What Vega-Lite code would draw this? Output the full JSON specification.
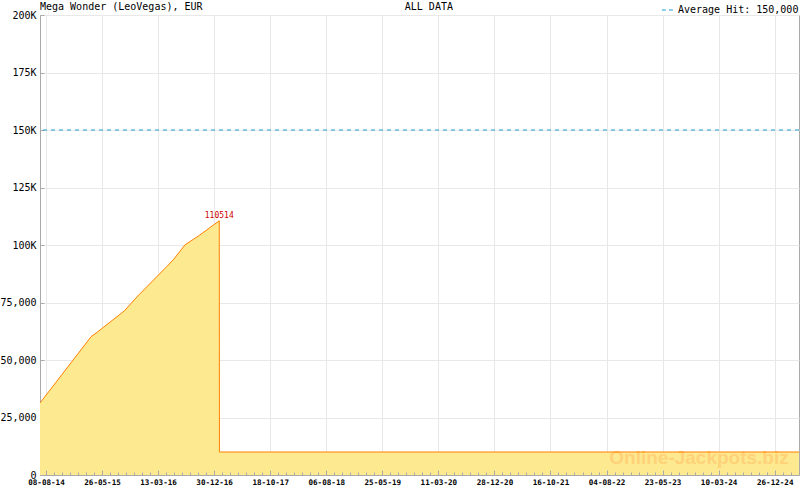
{
  "$schema": "https://vega.github.io/schema/vega-lite/v6.json",
  "width": 759,
  "height": 460,
  "autosize": {"type": "none"},
  "padding": {"left": 40, "top": 15, "right": 1, "bottom": 15},
  "background": "white",
  "title": {
    "text": "Mega Wonder (LeoVegas), EUR",
    "anchor": "start",
    "frame": "group",
    "font": "DejaVu Sans Mono",
    "fontSize": 10,
    "fontWeight": "normal",
    "color": "#000000",
    "offset": -10
  },
  "config": {
    "font": "DejaVu Sans Mono",
    "view": {"stroke": "#aaaaaa", "strokeWidth": 1}
  },
  "datasets": {
    "jackpot": [
      {"date": "2014-07-08", "amount": 31300},
      {"date": "2015-03-31", "amount": 60130},
      {"date": "2015-05-05", "amount": 62300},
      {"date": "2015-09-21", "amount": 71430},
      {"date": "2015-11-29", "amount": 77830},
      {"date": "2016-04-27", "amount": 90560},
      {"date": "2016-05-31", "amount": 93480},
      {"date": "2016-07-31", "amount": 100000},
      {"date": "2016-10-17", "amount": 104350},
      {"date": "2017-01-26", "amount": 110514},
      {"date": "2017-01-27", "amount": 10000},
      {"date": "2025-05-01T12:00:00Z", "amount": 10000}
    ],
    "peak": [
      {"date": "2017-01-26", "amount": 110514}
    ],
    "average": [
      {"series": "Average Hit: 150,000", "amount": 150000}
    ],
    "labels": [
      {"header": "ALL DATA", "watermark": "Online-Jackpots.biz"}
    ]
  },
  "resolve": {"axis": {"x": "independent"}},
  "layer": [
    {
      "data": {"name": "jackpot"},
      "mark": {"type": "area", "color": "#fde98f", "opacity": 1},
      "encoding": {
        "x": {
          "field": "date",
          "type": "temporal",
          "scale": {"type": "utc", "domain": [1404777600000, 1746100800000], "nice": false},
          "axis": {
            "orient": "bottom",
            "zindex": 1,
            "values": {"expr": "sequence(1407456000000, 1746100800000, 3601266048)"},
            "labelExpr": "(round((datum.value - 1407456000000) / 3601266048) % 7 == 0) ? ['08-08-14','26-05-15','13-03-16','30-12-16','18-10-17','06-08-18','25-05-19','11-03-20','28-12-20','16-10-21','04-08-22','23-05-23','10-03-24','26-12-24'][round((datum.value - 1407456000000) / 25208862336)] : ''",
            "grid": false,
            "tickSize": {"condition": {"test": "round((datum.value - 1407456000000) / 3601266048) % 7 == 0", "value": -5}, "value": -3},
            "tickColor": "#aaaaaa",
            "domainColor": "#aaaaaa",
            "labelFont": "DejaVu Sans Mono",
            "labelFontSize": 7.6,
            "labelFontWeight": "bold",
            "labelColor": "#000000",
            "labelPadding": 8,
            "labelOverlap": false,
            "labelFlush": false,
            "labelBound": false,
            "title": null
          }
        },
        "y": {
          "field": "amount",
          "type": "quantitative",
          "scale": {"domain": [0, 200000], "nice": false},
          "axis": {
            "values": [0, 25000, 50000, 75000, 100000, 125000, 150000, 175000, 200000],
            "labelExpr": "datum.value >= 100000 ? format(datum.value / 1000, 'd') + 'K' : format(datum.value, ',')",
            "grid": true,
            "gridColor": "#e8e8e8",
            "tickSize": -4,
            "tickColor": "#aaaaaa",
            "domainColor": "#aaaaaa",
            "labelPadding": 8,
            "labelFont": "DejaVu Sans Mono",
            "labelFontSize": 10,
            "labelColor": "#000000",
            "title": null
          }
        }
      }
    },
    {
      "data": {"name": "labels"},
      "mark": {"type": "text", "font": "Liberation Sans", "fontWeight": "bold", "fontSize": 19, "color": "#ffd27a", "align": "center", "baseline": "middle"},
      "encoding": {
        "x": {"datum": {"year": 2023, "month": 11, "date": 28, "utc": true}, "type": "temporal", "axis": null},
        "y": {"datum": 7400, "type": "quantitative"},
        "text": {"field": "watermark", "type": "nominal"}
      }
    },
    {
      "data": {"name": "jackpot"},
      "mark": {"type": "line", "color": "#ff8000", "strokeWidth": 1},
      "encoding": {
        "x": {"field": "date", "type": "temporal", "axis": null},
        "y": {"field": "amount", "type": "quantitative"}
      }
    },
    {
      "data": {"name": "average"},
      "mark": {"type": "rule", "strokeDash": [4, 4], "strokeWidth": 1},
      "encoding": {
        "y": {"field": "amount", "type": "quantitative"},
        "color": {
          "field": "series",
          "type": "nominal",
          "scale": {"range": ["#1e9ad6"]},
          "legend": {
            "title": null,
            "orient": "none",
            "legendX": 621,
            "legendY": -12,
            "padding": 0,
            "symbolType": "stroke",
            "symbolDash": [4, 3],
            "symbolStrokeWidth": 1,
            "symbolSize": 150,
            "symbolStrokeColor": "#1e9ad6",
            "labelFont": "DejaVu Sans Mono",
            "labelFontSize": 10,
            "labelColor": "#000000",
            "labelOffset": 3
          }
        }
      }
    },
    {
      "data": {"name": "peak"},
      "mark": {"type": "text", "color": "#cc0000", "fontSize": 8, "baseline": "bottom", "align": "center", "dy": -1},
      "encoding": {
        "x": {"field": "date", "type": "temporal", "axis": null},
        "y": {"field": "amount", "type": "quantitative"},
        "text": {"field": "amount", "type": "quantitative", "format": "d"}
      }
    },
    {
      "data": {"name": "labels"},
      "mark": {"type": "text", "fontSize": 10, "color": "#000000", "align": "center", "baseline": "alphabetic", "dy": -5},
      "encoding": {
        "x": {
          "datum": {"year": 2020, "month": 1, "date": 22, "utc": true},
          "type": "temporal",
          "axis": {
            "orient": "top",
            "zindex": 0,
            "values": {"expr": "sequence(1407456000000, 1746100800000, 25208862336)"},
            "grid": true,
            "gridColor": "#e8e8e8",
            "ticks": false,
            "labels": false,
            "domain": false,
            "title": null
          }
        },
        "y": {"datum": 200000, "type": "quantitative"},
        "text": {"field": "header", "type": "nominal"}
      }
    }
  ]
}
